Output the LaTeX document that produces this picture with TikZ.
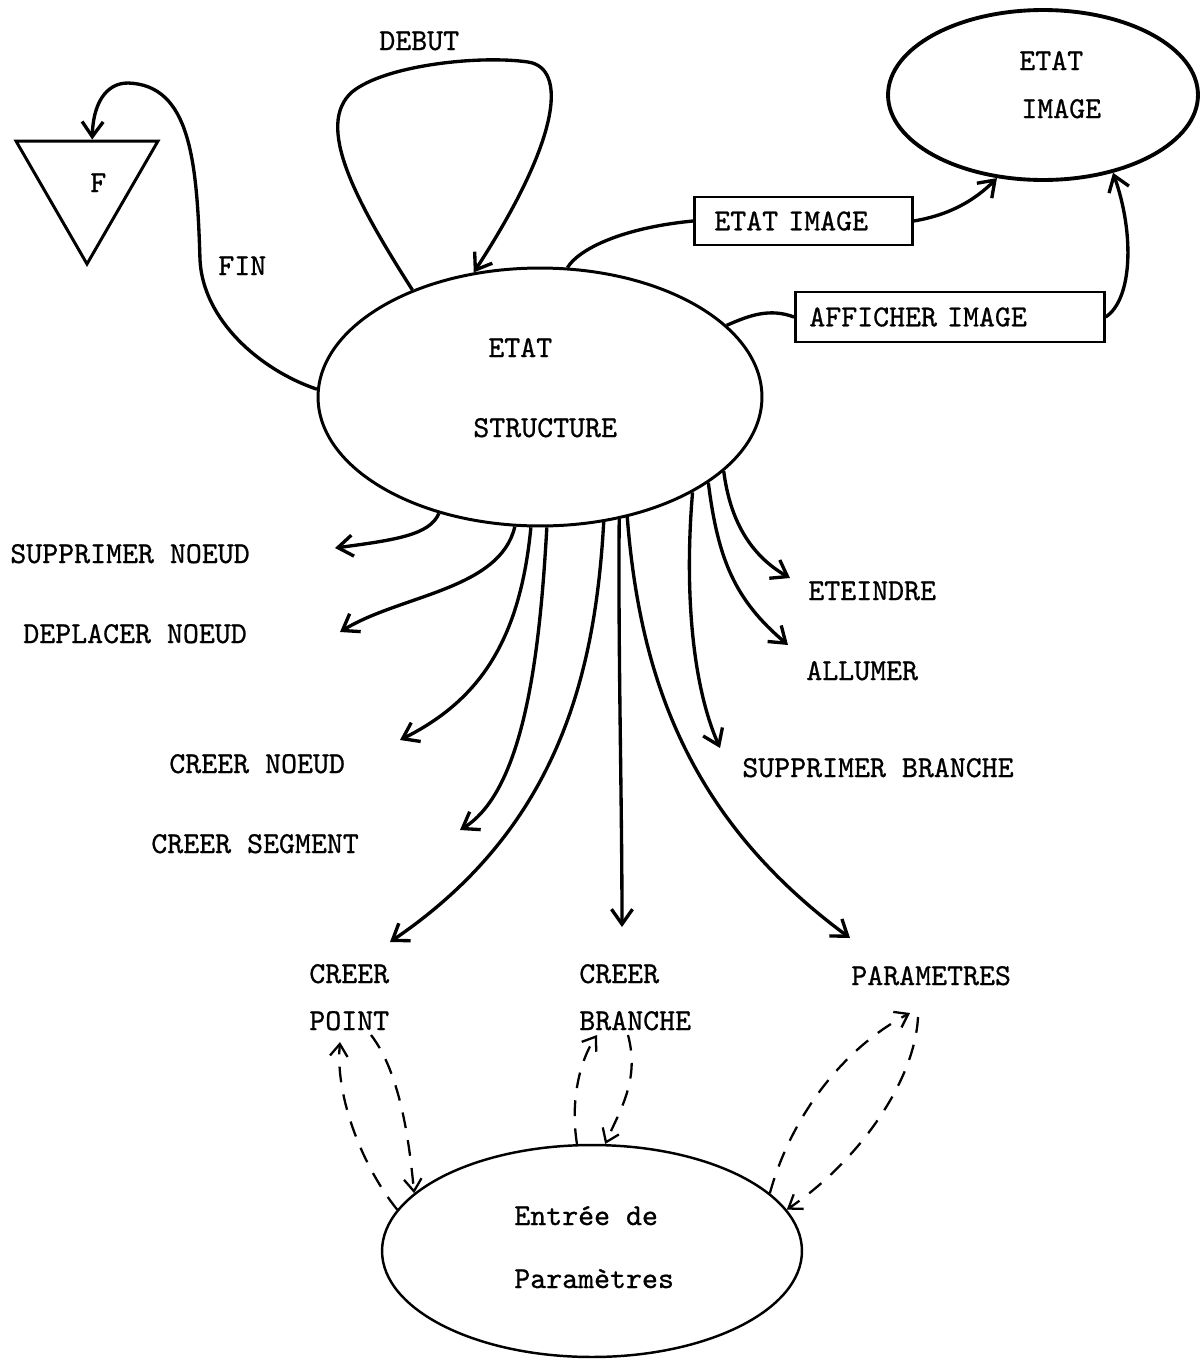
\documentclass[tikz,border=0pt]{standalone}
\usepackage{fontspec}
\newfontfamily\twfont{lmmono10-regular.otf}[FakeBold=0.8]
\usetikzlibrary{arrows.meta,shapes.geometric,calc}

\begin{document}
\begin{tikzpicture}[x=0.02cm,y=-0.02cm,
  txt/.style={font=\twfont\fontsize{17.3}{20}\selectfont, inner sep=0, anchor=base west},
  state/.style={draw, ellipse, line width=1.7pt, inner sep=0},
  actbox/.style={draw, rectangle, line width=1.5pt, anchor=west, align=left, inner ysep=0,
                 font=\twfont\fontsize{17.3}{20}\selectfont},
  link/.style={line width=1.9pt},
  flow/.style={line width=1.9pt, -{Straight Barb[length=8.5pt,width=12pt]}},
  dflow/.style={line width=1.3pt, dash pattern=on 9pt off 7pt,
                -{Straight Barb[length=7pt,width=10pt]}},
]
\fill[white] (0,0) rectangle (1202,1363);
\useasboundingbox (0,0) rectangle (1202,1363);

% states
\node[state, minimum width=8.88cm, minimum height=5.16cm] (es) at (540,397) {};
\node[state, line width=2.2pt, minimum width=6.2cm, minimum height=3.4cm] (ei) at (1043,95) {};
\node[state, line width=1.4pt, minimum width=8.4cm, minimum height=4.24cm] (ep) at (592,1251) {};
\node[draw, regular polygon, regular polygon sides=3, shape border rotate=180,
      minimum size=3.28cm, inner sep=0, line width=1.7pt] (fin) at (87,182) {};

% state texts
\node[txt] (tF) at (90,192) {F};
\node[txt] (tEs1) at (488,357) {ETAT};
\node[txt] (tEs2) at (473,437) {STRUCTURE};
\node[txt] (tEi1) at (1019,70) {ETAT};
\node[txt] (tEi2) at (1021,118) {IMAGE};
\node[txt] (tEp1) at (514,1225) {Entrée de};
\node[txt] (tEp2) at (514,1288) {Paramètres};

% action boxes
\node[actbox, text width=3.56cm, inner xsep=0.4cm, minimum height=0.96cm] (eib) at (693,221) {ETAT IMAGE};
\node[actbox, text width=5.62cm, inner xsep=0.28cm, minimum height=1cm] (afb) at (794,317) {AFFICHER IMAGE};

% transition labels
\node[txt] (tDebut) at (379,50) {DEBUT};
\node[txt] (tFin) at (218,275) {FIN};
\node[txt] (lSN) at (10,563) {SUPPRIMER NOEUD};
\node[txt] (lDN) at (23,643) {DEPLACER NOEUD};
\node[txt] (lCN) at (169,773) {CREER NOEUD};
\node[txt] (lCS) at (151,853) {CREER SEGMENT};
\node[txt] (lET) at (808,600) {ETEINDRE};
\node[txt] (lAL) at (806,680) {ALLUMER};
\node[txt] (lSB) at (742,777) {SUPPRIMER BRANCHE};
\node[txt] (lCP1) at (309,983) {CREER};
\node[txt] (lCP2) at (309,1030) {POINT};
\node[txt] (lCB1) at (579,983) {CREER};
\node[txt] (lCB2) at (579,1030) {BRANCHE};
\node[txt] (lPA) at (851,985) {PARAMETRES};

% arrow ends next to the labels
\coordinate (aSN) at (335,548);
\coordinate (aDN) at (340,632);
\coordinate (aCN) at (400,740);
\coordinate (aCS) at (460,830);
\coordinate (aCP) at (390,942);
\coordinate (aCB) at (622,927);
\coordinate (aPA) at (850,938);
\coordinate (aSB) at (720,748);
\coordinate (aAL) at (788,645);
\coordinate (aET) at (790,578);
\coordinate (dP1) at (340,1042);
\coordinate (dP2) at (371,1035);
\coordinate (dB1) at (597,1035);
\coordinate (dB2) at (628,1035);
\coordinate (dQ1) at (910,1013);
\coordinate (dQ2) at (918,1017);

% FIN and DEBUT
\draw[flow] (es.178) .. controls (260,370) and (203,320) .. (200,260)
   .. controls (197,160) and (190,85) .. (128,83)
   .. controls (105,83) and (93,105) .. (fin.83);
\draw[flow] (es.140) .. controls (355,200) and (315,125) .. (352,92)
   .. controls (385,65) and (480,55) .. (528,62)
   .. controls (568,68) and (560,140) .. (es.118);

% image actions
\draw[link] (es.78) .. controls (578,250) and (620,228) .. (eib.west);
\draw[flow] (eib.east) .. controls (950,215) and (975,200) .. (ei.241);
\draw[link] (es.21) .. controls (750,315) and (770,308) .. (afb.west);
\draw[flow] (afb.east) .. controls (1132,300) and (1135,235) .. (ei.312);

% structure actions
\draw[flow] (es.229) .. controls (430,535) and (395,540) .. (aSN);
\draw[flow] (es.259) .. controls (500,590) and (400,595) .. (aDN);
\draw[flow] (es.266) .. controls (520,640) and (480,700) .. (aCN);
\draw[flow] (es.273) .. controls (540,650) and (525,790) .. (aCS);
\draw[flow] (es.297) .. controls (595,680) and (555,830) .. (aCP);
\draw[flow] (es.303) .. controls (618,650) and (622,800) .. (aCB);
\draw[flow] (es.306) .. controls (640,680) and (690,820) .. (aPA);
\draw[flow] (es.328) .. controls (685,580) and (690,680) .. (aSB);
\draw[flow] (es.333) .. controls (718,560) and (735,600) .. (aAL);
\draw[flow] (es.338) .. controls (730,520) and (750,555) .. (aET);

% parameter input exchanges
\draw[dflow] (ep.168) .. controls (365,1170) and (335,1100) .. (dP1);
\draw[dflow] (dP2) .. controls (402,1075) and (410,1150) .. (ep.162);
\draw[dflow] (ep.98) .. controls (570,1100) and (580,1060) .. (dB1);
\draw[dflow] (dB2) .. controls (640,1080) and (620,1110) .. (ep.83);
\draw[dflow] (ep.18) .. controls (790,1120) and (840,1050) .. (dQ1);
\draw[dflow] (dQ2) .. controls (915,1080) and (860,1160) .. (ep.12);
\end{tikzpicture}
\end{document}
